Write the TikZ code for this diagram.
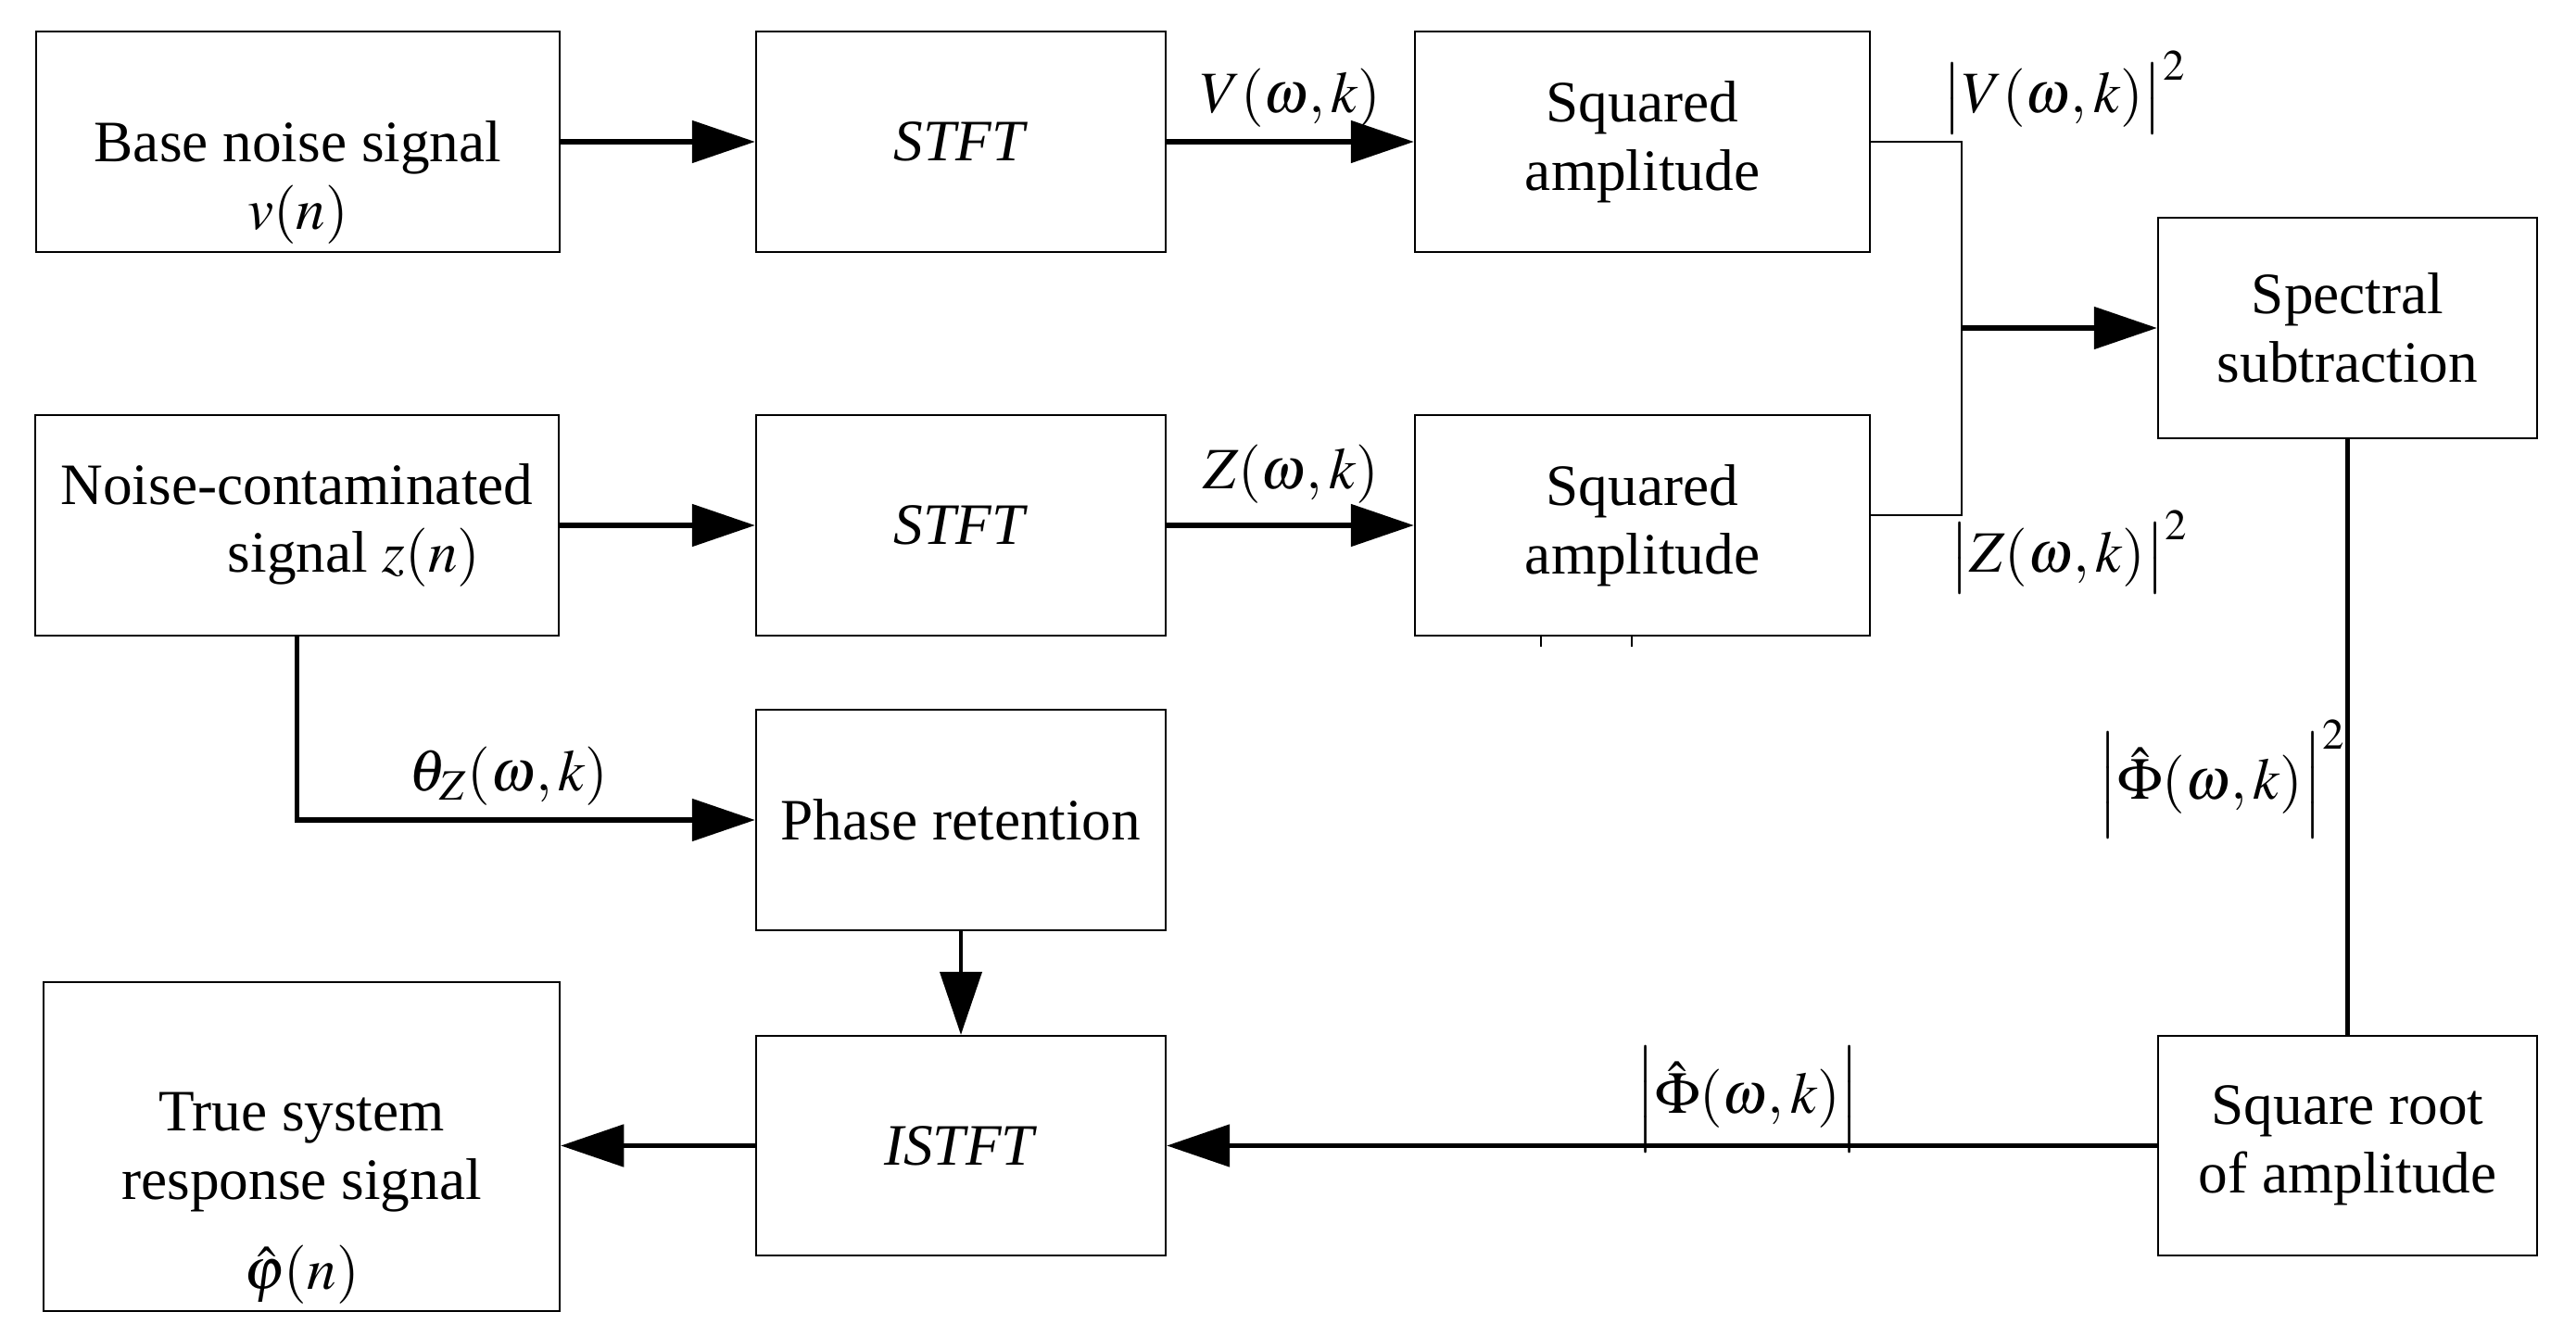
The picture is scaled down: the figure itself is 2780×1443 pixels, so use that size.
\documentclass[tikz,border=0pt]{standalone}
\usepackage{mathptmx}
\usepackage{fontspec}
\setmainfont{Liberation Serif}
\usetikzlibrary{arrows.meta}
\begin{document}
\begin{tikzpicture}[x=0.01cm,y=-0.01cm,
  font=\fontsize{18}{21}\selectfont,
  box/.style={draw, line width=0.6pt, align=center, inner sep=0pt},
  wide/.style={minimum width=5.65cm, minimum height=2.37cm},
  mid/.style={minimum width=4.42cm, minimum height=2.37cm},
  sq/.style={minimum width=4.91cm, minimum height=2.37cm},
  nar/.style={minimum width=4.09cm, minimum height=2.37cm},
  bigarrow/.style={line width=1.45pt, -{Triangle[length=0.68cm,width=0.45cm]}},
  medarrow/.style={line width=1.15pt, -{Triangle[length=0.68cm,width=0.45cm]}},
  thinline/.style={line width=0.55pt},
  lbl/.style={anchor=base, inner sep=0pt}]
\useasboundingbox (0,0) rectangle (2780,1443);
% boxes
\node[box, wide] (base) at (321.5,153) {\phantom{$v(n)$}\\[3pt]Base noise signal\\$v(n)$};
\node[box, mid] (stft1) at (1037,153) {\textit{STFT}};
\node[box, sq] (sq1) at (1772.5,153) {Squared\\amplitude};
\node[box, wide] (noisy) at (320.5,567) {Noise-contaminated\\\hspace*{35pt}signal $z(n)$};
\node[box, mid] (stft2) at (1037,567) {\textit{STFT}};
\node[box, sq] (sq2) at (1772.5,567) {Squared\\amplitude};
\node[box, nar] (spec) at (2533.5,354) {Spectral\\subtraction};
\node[box, mid] (phase) at (1037,885) {Phase retention};
\node[box, mid] (istft) at (1037,1236.5) {\textit{ISTFT}};
\node[box, nar] (sqrt) at (2533.5,1236.5) {Square root\\of amplitude};
\node[box, minimum width=5.57cm, minimum height=3.55cm] (true) at (325.5,1237.5)
  {\phantom{$x$}\\[14.5pt]True system\\response signal\\[6.5pt]$\hat{\varphi}(n)$};
% junction points
\coordinate (jt) at (2117,153);
\coordinate (jb) at (2117,556);
\coordinate (j) at (2117,354);
% connectors
\draw[bigarrow] (base) -- (stft1);
\draw[bigarrow] (stft1) -- (sq1);
\draw[bigarrow] (noisy) -- (stft2);
\draw[bigarrow] (stft2) -- (sq2);
\draw[thinline] (sq1.east) -- (jt) -- (jb) -- (jb -| sq2.east);
\draw[bigarrow] (j) -- (spec);
\draw[line width=1.3pt] (spec.south) -- (sqrt.north);
\draw[bigarrow] (sqrt) -- (istft);
\draw[bigarrow] (istft.west) -- (istft.west -| true.east);
\draw[medarrow] (phase) -- (istft);
\draw[bigarrow] (noisy.south) |- (phase.west);
% small ticks below lower squared-amplitude box
\draw[line width=0.8pt] (1663,685) -- (1663,698);
\draw[line width=0.8pt] (1761,685) -- (1761,698);
% labels
\node[lbl] (lV) at (1393,122) {$V(\omega,k)$};
\node[lbl] (lZ) at (1393,528) {$Z(\omega,k)$};
\node[lbl] (lV2) at (2228,122) {$\left|\rule[-6.5pt]{0pt}{15pt}V(\omega,k)\right|^2$};
\node[lbl] (lZ2) at (2233,618) {$\left|\rule[-6.5pt]{0pt}{15pt}Z(\omega,k)\right|^2$};
\node[lbl] (lth) at (549,854) {$\theta_Z(\omega,k)$};
\node[lbl] (lP2) at (2398,863) {$\left|\rule[-10pt]{0pt}{18.5pt}\hat{\Phi}(\omega,k)\right|^2$};
\node[lbl] (lP) at (1886,1202) {$\left|\rule[-9pt]{0pt}{18.5pt}\hat{\Phi}(\omega,k)\right|$};
\end{tikzpicture}
\end{document}
